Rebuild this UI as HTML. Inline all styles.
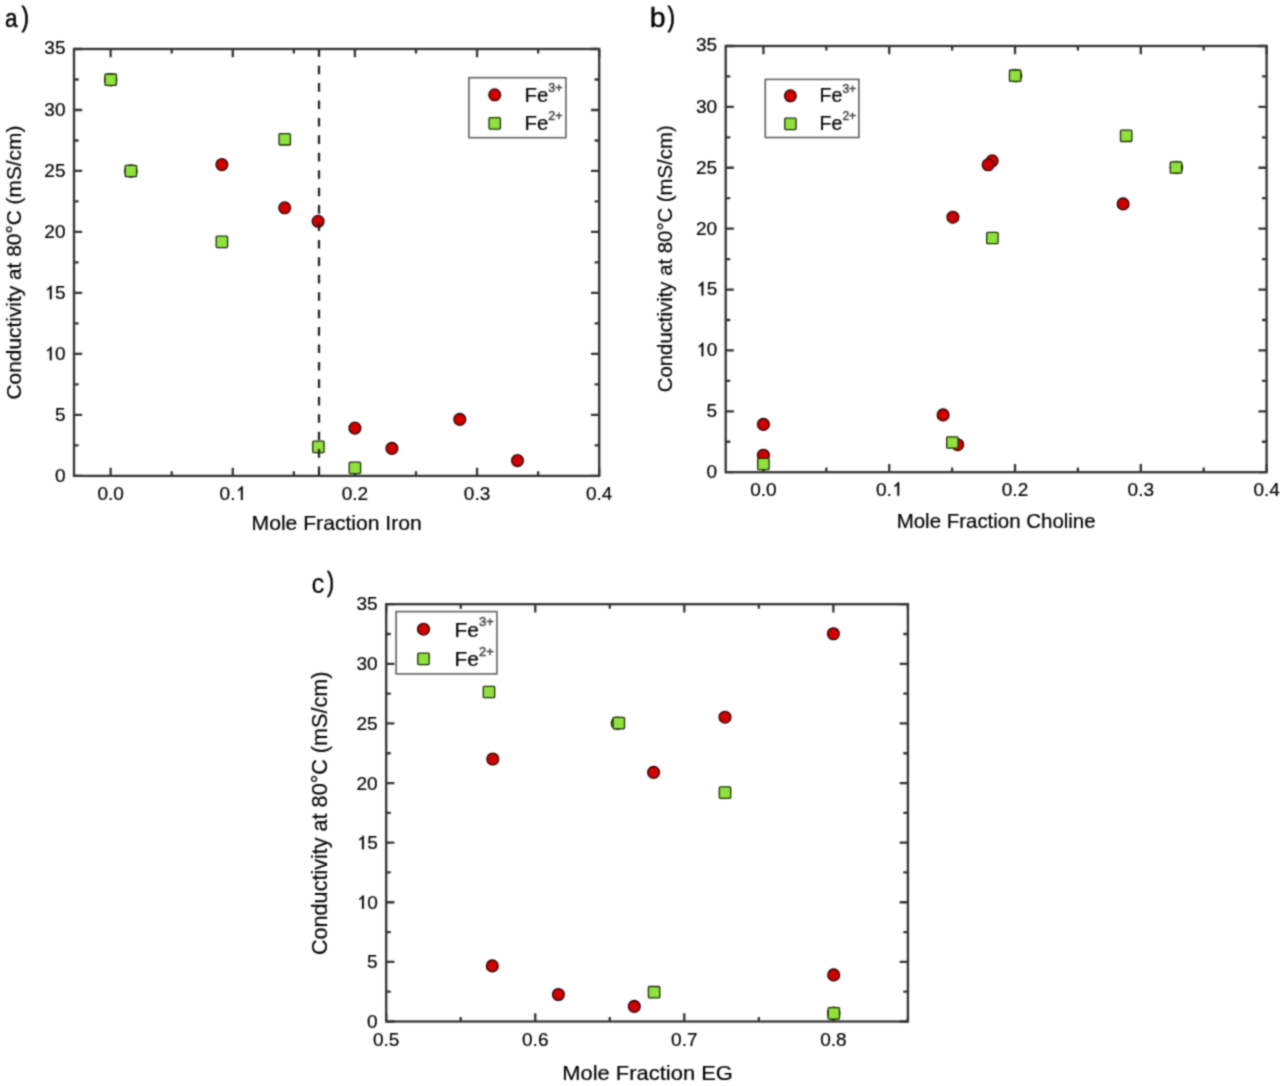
<!DOCTYPE html>
<html><head><meta charset="utf-8"><style>
html,body{margin:0;padding:0;background:#fff;}
svg{display:block;}
text{font-family:"Liberation Sans", sans-serif;fill:#000000;stroke:#000000;stroke-width:0.2px;}
</style></head><body>
<svg width="1280" height="1086" viewBox="0 0 1280 1086">
<defs><filter id="bl" x="0" y="0" width="1280" height="1086" filterUnits="userSpaceOnUse" color-interpolation-filters="sRGB"><feConvolveMatrix order="5" kernelMatrix="0.00009 0.00198 0.00548 0.00198 0.00009 0.00198 0.04220 0.11707 0.04220 0.00198 0.00548 0.11707 0.32480 0.11707 0.00548 0.00198 0.04220 0.11707 0.04220 0.00198 0.00009 0.00198 0.00548 0.00198 0.00009" edgeMode="none"/></filter></defs>
<rect width="1280" height="1086" fill="#fff"/>
<g filter="url(#bl)">
<path d="M110.64 475.90v-8.2 M110.64 49.00v8.2 M171.71 475.90v-4.6 M171.71 49.00v4.6 M232.78 475.90v-8.2 M232.78 49.00v8.2 M293.85 475.90v-4.6 M293.85 49.00v4.6 M354.92 475.90v-8.2 M354.92 49.00v8.2 M415.99 475.90v-4.6 M415.99 49.00v4.6 M477.06 475.90v-8.2 M477.06 49.00v8.2 M538.13 475.90v-4.6 M538.13 49.00v4.6 M599.20 475.90v-8.2 M599.20 49.00v8.2 M74.00 475.90h8.2 M599.20 475.90h-8.2 M74.00 445.41h4.6 M599.20 445.41h-4.6 M74.00 414.91h8.2 M599.20 414.91h-8.2 M74.00 384.42h4.6 M599.20 384.42h-4.6 M74.00 353.93h8.2 M599.20 353.93h-8.2 M74.00 323.44h4.6 M599.20 323.44h-4.6 M74.00 292.94h8.2 M599.20 292.94h-8.2 M74.00 262.45h4.6 M599.20 262.45h-4.6 M74.00 231.96h8.2 M599.20 231.96h-8.2 M74.00 201.46h4.6 M599.20 201.46h-4.6 M74.00 170.97h8.2 M599.20 170.97h-8.2 M74.00 140.48h4.6 M599.20 140.48h-4.6 M74.00 109.99h8.2 M599.20 109.99h-8.2 M74.00 79.49h4.6 M599.20 79.49h-4.6 M74.00 49.00h8.2 M599.20 49.00h-8.2" stroke="#333333" stroke-width="2.3" fill="none"/>
<circle cx="221.9" cy="164.6" r="5.9" fill="#d00000" stroke="#2a0000" stroke-width="1.3"/>
<circle cx="284.7" cy="207.8" r="5.9" fill="#d00000" stroke="#2a0000" stroke-width="1.3"/>
<circle cx="318.1" cy="221.3" r="5.9" fill="#d00000" stroke="#2a0000" stroke-width="1.3"/>
<circle cx="354.9" cy="428.1" r="5.9" fill="#d00000" stroke="#2a0000" stroke-width="1.3"/>
<circle cx="391.9" cy="448.4" r="5.9" fill="#d00000" stroke="#2a0000" stroke-width="1.3"/>
<circle cx="459.8" cy="419.4" r="5.9" fill="#d00000" stroke="#2a0000" stroke-width="1.3"/>
<circle cx="517.5" cy="460.6" r="5.9" fill="#d00000" stroke="#2a0000" stroke-width="1.3"/>
<circle cx="110.7" cy="79.7" r="6.1" fill="#8fe13c" stroke="#1c2c06" stroke-width="1.4"/>
<circle cx="130.9" cy="171.0" r="6.1" fill="#8fe13c" stroke="#1c2c06" stroke-width="1.4"/>
<rect x="105.00" y="74.00" width="11.4" height="11.4" rx="1" fill="#8fe13c" stroke="#1c2c06" stroke-width="1.3"/>
<rect x="125.20" y="165.30" width="11.4" height="11.4" rx="1" fill="#8fe13c" stroke="#1c2c06" stroke-width="1.3"/>
<rect x="216.20" y="236.20" width="11.4" height="11.4" rx="1" fill="#8fe13c" stroke="#1c2c06" stroke-width="1.3"/>
<rect x="279.00" y="133.60" width="11.4" height="11.4" rx="1" fill="#8fe13c" stroke="#1c2c06" stroke-width="1.3"/>
<rect x="312.70" y="441.20" width="11.4" height="11.4" rx="1" fill="#8fe13c" stroke="#1c2c06" stroke-width="1.3"/>
<rect x="349.20" y="462.20" width="11.4" height="11.4" rx="1" fill="#8fe13c" stroke="#1c2c06" stroke-width="1.3"/>
<path d="M319.00 48.20V475.90" stroke="#222" stroke-width="2.3" stroke-dasharray="8.6 8.83"/>
<rect x="74.0" y="49.0" width="525.20" height="426.90" fill="none" stroke="#333333" stroke-width="2.3"/>
<text x="65.50" y="482.30" text-anchor="end" font-size="19">0</text>
<text x="65.50" y="421.31" text-anchor="end" font-size="19">5</text>
<path d="M783 0L593 0L593 1137C553 1099 503 1062 443 1026C383 990 331 962 290 944L290 1120C376 1160 452 1212 518 1276C584 1340 632 1404 660 1466L783 1466Z" transform="translate(44.37 360.33) scale(0.00928 -0.00928)" fill="#000000" stroke="#000000" stroke-width="21.6"/><text x="54.93" y="360.33" font-size="19">0</text>
<path d="M783 0L593 0L593 1137C553 1099 503 1062 443 1026C383 990 331 962 290 944L290 1120C376 1160 452 1212 518 1276C584 1340 632 1404 660 1466L783 1466Z" transform="translate(44.37 299.34) scale(0.00928 -0.00928)" fill="#000000" stroke="#000000" stroke-width="21.6"/><text x="54.93" y="299.34" font-size="19">5</text>
<text x="65.50" y="238.36" text-anchor="end" font-size="19">20</text>
<text x="65.50" y="177.37" text-anchor="end" font-size="19">25</text>
<text x="65.50" y="116.39" text-anchor="end" font-size="19">30</text>
<text x="65.50" y="54.00" text-anchor="end" font-size="19">35</text>
<text x="110.64" y="499.90" text-anchor="middle" font-size="19">0.0</text>
<text x="219.58" y="499.90" font-size="19">0</text><text x="230.14" y="499.90" font-size="19">.</text><path d="M783 0L593 0L593 1137C553 1099 503 1062 443 1026C383 990 331 962 290 944L290 1120C376 1160 452 1212 518 1276C584 1340 632 1404 660 1466L783 1466Z" transform="translate(235.42 499.90) scale(0.00928 -0.00928)" fill="#000000" stroke="#000000" stroke-width="21.6"/>
<text x="354.92" y="499.90" text-anchor="middle" font-size="19">0.2</text>
<text x="477.06" y="499.90" text-anchor="middle" font-size="19">0.3</text>
<text x="599.20" y="499.90" text-anchor="middle" font-size="19">0.4</text>
<text x="251.57" y="529.50" font-size="20.4" textLength="170.20" lengthAdjust="spacingAndGlyphs">Mole Fraction Iron</text>
<text transform="translate(21.20 399.46) rotate(-90)" x="0" y="0" font-size="20.6" textLength="273.85" lengthAdjust="spacingAndGlyphs">Conductivity at 80°C (mS/cm)</text>
<rect x="468.9" y="77.7" width="97.00" height="60.00" fill="#fff" stroke="#606060" stroke-width="1.6"/>
<circle cx="494.7" cy="94.8" r="5.9" fill="#d00000" stroke="#2a0000" stroke-width="1.3"/>
<rect x="489.00" y="117.70" width="11.4" height="11.4" rx="1" fill="#8fe13c" stroke="#1c2c06" stroke-width="1.3"/>
<text x="524.4" y="101.6" font-size="20.5">Fe<tspan dy="-10" font-size="12.5" fill="#444" stroke="#444" style="stroke-width:0.45px">3+</tspan></text>
<text x="524.4" y="130.2" font-size="20.5">Fe<tspan dy="-10" font-size="12.5" fill="#444" stroke="#444" style="stroke-width:0.45px">2+</tspan></text>
<text transform="translate(5.0 26.55) scale(0.88 1)" font-size="25.7" style="stroke-width:0.5px">a</text>
<text transform="translate(21.7 26.1) scale(0.76 1)" font-size="28.2" style="stroke-width:0.8px">)</text>
<path d="M763.44 472.20v-8.2 M763.44 46.00v8.2 M826.33 472.20v-4.6 M826.33 46.00v4.6 M889.23 472.20v-8.2 M889.23 46.00v8.2 M952.12 472.20v-4.6 M952.12 46.00v4.6 M1015.02 472.20v-8.2 M1015.02 46.00v8.2 M1077.91 472.20v-4.6 M1077.91 46.00v4.6 M1140.81 472.20v-8.2 M1140.81 46.00v8.2 M1203.70 472.20v-4.6 M1203.70 46.00v4.6 M1266.60 472.20v-8.2 M1266.60 46.00v8.2 M725.70 472.20h8.2 M1266.60 472.20h-8.2 M725.70 441.76h4.6 M1266.60 441.76h-4.6 M725.70 411.31h8.2 M1266.60 411.31h-8.2 M725.70 380.87h4.6 M1266.60 380.87h-4.6 M725.70 350.43h8.2 M1266.60 350.43h-8.2 M725.70 319.99h4.6 M1266.60 319.99h-4.6 M725.70 289.54h8.2 M1266.60 289.54h-8.2 M725.70 259.10h4.6 M1266.60 259.10h-4.6 M725.70 228.66h8.2 M1266.60 228.66h-8.2 M725.70 198.21h4.6 M1266.60 198.21h-4.6 M725.70 167.77h8.2 M1266.60 167.77h-8.2 M725.70 137.33h4.6 M1266.60 137.33h-4.6 M725.70 106.89h8.2 M1266.60 106.89h-8.2 M725.70 76.44h4.6 M1266.60 76.44h-4.6 M725.70 46.00h8.2 M1266.60 46.00h-8.2" stroke="#333333" stroke-width="2.3" fill="none"/>
<circle cx="763.4" cy="424.4" r="5.9" fill="#d00000" stroke="#2a0000" stroke-width="1.3"/>
<circle cx="763.4" cy="455.2" r="5.9" fill="#d00000" stroke="#2a0000" stroke-width="1.3"/>
<circle cx="943.1" cy="414.9" r="5.9" fill="#d00000" stroke="#2a0000" stroke-width="1.3"/>
<circle cx="957.7" cy="444.7" r="5.9" fill="#d00000" stroke="#2a0000" stroke-width="1.3"/>
<circle cx="992.2" cy="160.8" r="5.9" fill="#d00000" stroke="#2a0000" stroke-width="1.3"/>
<circle cx="988.1" cy="164.8" r="5.9" fill="#d00000" stroke="#2a0000" stroke-width="1.3"/>
<circle cx="952.9" cy="217.2" r="5.9" fill="#d00000" stroke="#2a0000" stroke-width="1.3"/>
<circle cx="1123.1" cy="203.9" r="5.9" fill="#d00000" stroke="#2a0000" stroke-width="1.3"/>
<circle cx="1015.6" cy="75.7" r="6.1" fill="#8fe13c" stroke="#1c2c06" stroke-width="1.4"/>
<circle cx="1176.4" cy="167.5" r="6.1" fill="#8fe13c" stroke="#1c2c06" stroke-width="1.4"/>
<rect x="757.70" y="458.30" width="11.4" height="11.4" rx="1" fill="#8fe13c" stroke="#1c2c06" stroke-width="1.3"/>
<rect x="946.70" y="436.80" width="11.4" height="11.4" rx="1" fill="#8fe13c" stroke="#1c2c06" stroke-width="1.3"/>
<rect x="986.70" y="232.30" width="11.4" height="11.4" rx="1" fill="#8fe13c" stroke="#1c2c06" stroke-width="1.3"/>
<rect x="1009.50" y="70.00" width="11.4" height="11.4" rx="1" fill="#8fe13c" stroke="#1c2c06" stroke-width="1.3"/>
<rect x="1120.50" y="130.10" width="11.4" height="11.4" rx="1" fill="#8fe13c" stroke="#1c2c06" stroke-width="1.3"/>
<rect x="1170.30" y="161.80" width="11.4" height="11.4" rx="1" fill="#8fe13c" stroke="#1c2c06" stroke-width="1.3"/>
<rect x="725.7" y="46.0" width="540.90" height="426.20" fill="none" stroke="#333333" stroke-width="2.3"/>
<text x="717.20" y="478.10" text-anchor="end" font-size="19">0</text>
<text x="717.20" y="417.21" text-anchor="end" font-size="19">5</text>
<path d="M783 0L593 0L593 1137C553 1099 503 1062 443 1026C383 990 331 962 290 944L290 1120C376 1160 452 1212 518 1276C584 1340 632 1404 660 1466L783 1466Z" transform="translate(696.07 356.33) scale(0.00928 -0.00928)" fill="#000000" stroke="#000000" stroke-width="21.6"/><text x="706.63" y="356.33" font-size="19">0</text>
<path d="M783 0L593 0L593 1137C553 1099 503 1062 443 1026C383 990 331 962 290 944L290 1120C376 1160 452 1212 518 1276C584 1340 632 1404 660 1466L783 1466Z" transform="translate(696.07 295.44) scale(0.00928 -0.00928)" fill="#000000" stroke="#000000" stroke-width="21.6"/><text x="706.63" y="295.44" font-size="19">5</text>
<text x="717.20" y="234.56" text-anchor="end" font-size="19">20</text>
<text x="717.20" y="173.67" text-anchor="end" font-size="19">25</text>
<text x="717.20" y="112.79" text-anchor="end" font-size="19">30</text>
<text x="717.20" y="50.50" text-anchor="end" font-size="19">35</text>
<text x="763.44" y="495.70" text-anchor="middle" font-size="19">0.0</text>
<text x="876.02" y="495.70" font-size="19">0</text><text x="886.59" y="495.70" font-size="19">.</text><path d="M783 0L593 0L593 1137C553 1099 503 1062 443 1026C383 990 331 962 290 944L290 1120C376 1160 452 1212 518 1276C584 1340 632 1404 660 1466L783 1466Z" transform="translate(891.87 495.70) scale(0.00928 -0.00928)" fill="#000000" stroke="#000000" stroke-width="21.6"/>
<text x="1015.02" y="495.70" text-anchor="middle" font-size="19">0.2</text>
<text x="1140.81" y="495.70" text-anchor="middle" font-size="19">0.3</text>
<text x="1266.60" y="495.70" text-anchor="middle" font-size="19">0.4</text>
<text x="896.72" y="527.80" font-size="20.0" textLength="198.89" lengthAdjust="spacingAndGlyphs">Mole Fraction Choline</text>
<text transform="translate(672.30 392.23) rotate(-90)" x="0" y="0" font-size="20.2" textLength="266.89" lengthAdjust="spacingAndGlyphs">Conductivity at 80°C (mS/cm)</text>
<rect x="765.3" y="79.4" width="93.60" height="58.10" fill="#fff" stroke="#606060" stroke-width="1.6"/>
<circle cx="790.4" cy="95.8" r="5.9" fill="#d00000" stroke="#2a0000" stroke-width="1.3"/>
<rect x="784.70" y="118.20" width="11.4" height="11.4" rx="1" fill="#8fe13c" stroke="#1c2c06" stroke-width="1.3"/>
<text x="819.5" y="102.3" font-size="19.6">Fe<tspan dy="-9.8" font-size="12" fill="#444" stroke="#444" style="stroke-width:0.45px">3+</tspan></text>
<text x="819.5" y="130.2" font-size="19.6">Fe<tspan dy="-9.8" font-size="12" fill="#444" stroke="#444" style="stroke-width:0.45px">2+</tspan></text>
<text transform="translate(649.8 26.6) scale(1.0 1)" font-size="28.5" style="stroke-width:0.4px">b</text>
<text transform="translate(667.8 26.2) scale(0.76 1)" font-size="28.3" style="stroke-width:0.8px">)</text>
<path d="M386.20 1021.50v-8.2 M386.20 604.20v8.2 M460.73 1021.50v-4.6 M460.73 604.20v4.6 M535.26 1021.50v-8.2 M535.26 604.20v8.2 M609.79 1021.50v-4.6 M609.79 604.20v4.6 M684.31 1021.50v-8.2 M684.31 604.20v8.2 M758.84 1021.50v-4.6 M758.84 604.20v4.6 M833.37 1021.50v-8.2 M833.37 604.20v8.2 M907.90 1021.50v-4.6 M907.90 604.20v4.6 M386.20 1021.50h8.2 M907.90 1021.50h-8.2 M386.20 991.69h4.6 M907.90 991.69h-4.6 M386.20 961.89h8.2 M907.90 961.89h-8.2 M386.20 932.08h4.6 M907.90 932.08h-4.6 M386.20 902.27h8.2 M907.90 902.27h-8.2 M386.20 872.46h4.6 M907.90 872.46h-4.6 M386.20 842.66h8.2 M907.90 842.66h-8.2 M386.20 812.85h4.6 M907.90 812.85h-4.6 M386.20 783.04h8.2 M907.90 783.04h-8.2 M386.20 753.24h4.6 M907.90 753.24h-4.6 M386.20 723.43h8.2 M907.90 723.43h-8.2 M386.20 693.62h4.6 M907.90 693.62h-4.6 M386.20 663.81h8.2 M907.90 663.81h-8.2 M386.20 634.01h4.6 M907.90 634.01h-4.6 M386.20 604.20h8.2 M907.90 604.20h-8.2" stroke="#333333" stroke-width="2.3" fill="none"/>
<circle cx="833.4" cy="633.75" r="5.9" fill="#d00000" stroke="#2a0000" stroke-width="1.3"/>
<circle cx="725.0" cy="717.2" r="5.9" fill="#d00000" stroke="#2a0000" stroke-width="1.3"/>
<circle cx="492.8" cy="759.0" r="5.9" fill="#d00000" stroke="#2a0000" stroke-width="1.3"/>
<circle cx="653.6" cy="772.4" r="5.9" fill="#d00000" stroke="#2a0000" stroke-width="1.3"/>
<circle cx="634.3" cy="1006.4" r="5.9" fill="#d00000" stroke="#2a0000" stroke-width="1.3"/>
<circle cx="833.7" cy="974.9" r="5.9" fill="#d00000" stroke="#2a0000" stroke-width="1.3"/>
<circle cx="492.3" cy="965.9" r="5.9" fill="#d00000" stroke="#2a0000" stroke-width="1.3"/>
<circle cx="558.4" cy="994.5" r="5.9" fill="#d00000" stroke="#2a0000" stroke-width="1.3"/>
<circle cx="833.7" cy="1013.4" r="6.1" fill="#8fe13c" stroke="#1c2c06" stroke-width="1.4"/>
<circle cx="617.4" cy="723.3" r="6.1" fill="#8fe13c" stroke="#1c2c06" stroke-width="1.4"/>
<rect x="483.30" y="686.30" width="11.4" height="11.4" rx="1" fill="#8fe13c" stroke="#1c2c06" stroke-width="1.3"/>
<rect x="613.10" y="717.40" width="11.4" height="11.4" rx="1" fill="#8fe13c" stroke="#1c2c06" stroke-width="1.3"/>
<rect x="719.30" y="786.90" width="11.4" height="11.4" rx="1" fill="#8fe13c" stroke="#1c2c06" stroke-width="1.3"/>
<rect x="648.40" y="986.50" width="11.4" height="11.4" rx="1" fill="#8fe13c" stroke="#1c2c06" stroke-width="1.3"/>
<rect x="828.10" y="1007.70" width="11.4" height="11.4" rx="1" fill="#8fe13c" stroke="#1c2c06" stroke-width="1.3"/>
<rect x="386.2" y="604.2" width="521.70" height="417.30" fill="none" stroke="#333333" stroke-width="2.3"/>
<text x="377.70" y="1028.10" text-anchor="end" font-size="19">0</text>
<text x="377.70" y="968.49" text-anchor="end" font-size="19">5</text>
<path d="M783 0L593 0L593 1137C553 1099 503 1062 443 1026C383 990 331 962 290 944L290 1120C376 1160 452 1212 518 1276C584 1340 632 1404 660 1466L783 1466Z" transform="translate(356.57 908.87) scale(0.00928 -0.00928)" fill="#000000" stroke="#000000" stroke-width="21.6"/><text x="367.13" y="908.87" font-size="19">0</text>
<path d="M783 0L593 0L593 1137C553 1099 503 1062 443 1026C383 990 331 962 290 944L290 1120C376 1160 452 1212 518 1276C584 1340 632 1404 660 1466L783 1466Z" transform="translate(356.57 849.26) scale(0.00928 -0.00928)" fill="#000000" stroke="#000000" stroke-width="21.6"/><text x="367.13" y="849.26" font-size="19">5</text>
<text x="377.70" y="789.64" text-anchor="end" font-size="19">20</text>
<text x="377.70" y="730.03" text-anchor="end" font-size="19">25</text>
<text x="377.70" y="670.41" text-anchor="end" font-size="19">30</text>
<text x="377.70" y="609.90" text-anchor="end" font-size="19">35</text>
<text x="386.20" y="1046.00" text-anchor="middle" font-size="19">0.5</text>
<text x="535.26" y="1046.00" text-anchor="middle" font-size="19">0.6</text>
<text x="684.31" y="1046.00" text-anchor="middle" font-size="19">0.7</text>
<text x="833.37" y="1046.00" text-anchor="middle" font-size="19">0.8</text>
<text x="562.20" y="1080.00" font-size="20.8" textLength="170.74" lengthAdjust="spacingAndGlyphs">Mole Fraction EG</text>
<text transform="translate(326.90 955.00) rotate(-90)" x="0" y="0" font-size="21.2" textLength="283.44" lengthAdjust="spacingAndGlyphs">Conductivity at 80°C (mS/cm)</text>
<rect x="396.1" y="611.6" width="100.80" height="62.30" fill="#fff" stroke="#606060" stroke-width="1.6"/>
<circle cx="423.5" cy="629.2" r="5.9" fill="#d00000" stroke="#2a0000" stroke-width="1.3"/>
<rect x="417.80" y="653.20" width="11.4" height="11.4" rx="1" fill="#8fe13c" stroke="#1c2c06" stroke-width="1.3"/>
<text x="454.4" y="636.5" font-size="21">Fe<tspan dy="-10.3" font-size="13" fill="#444" stroke="#444" style="stroke-width:0.45px">3+</tspan></text>
<text x="454.4" y="666.2" font-size="21">Fe<tspan dy="-10.3" font-size="13" fill="#444" stroke="#444" style="stroke-width:0.45px">2+</tspan></text>
<text transform="translate(311.6 593.2) scale(0.94 1)" font-size="27.5" style="stroke-width:0.1px">c</text>
<text transform="translate(327.0 591.3) scale(0.76 1)" font-size="28.3" style="stroke-width:0.6px">)</text>
</g>
</svg>
</body></html>
